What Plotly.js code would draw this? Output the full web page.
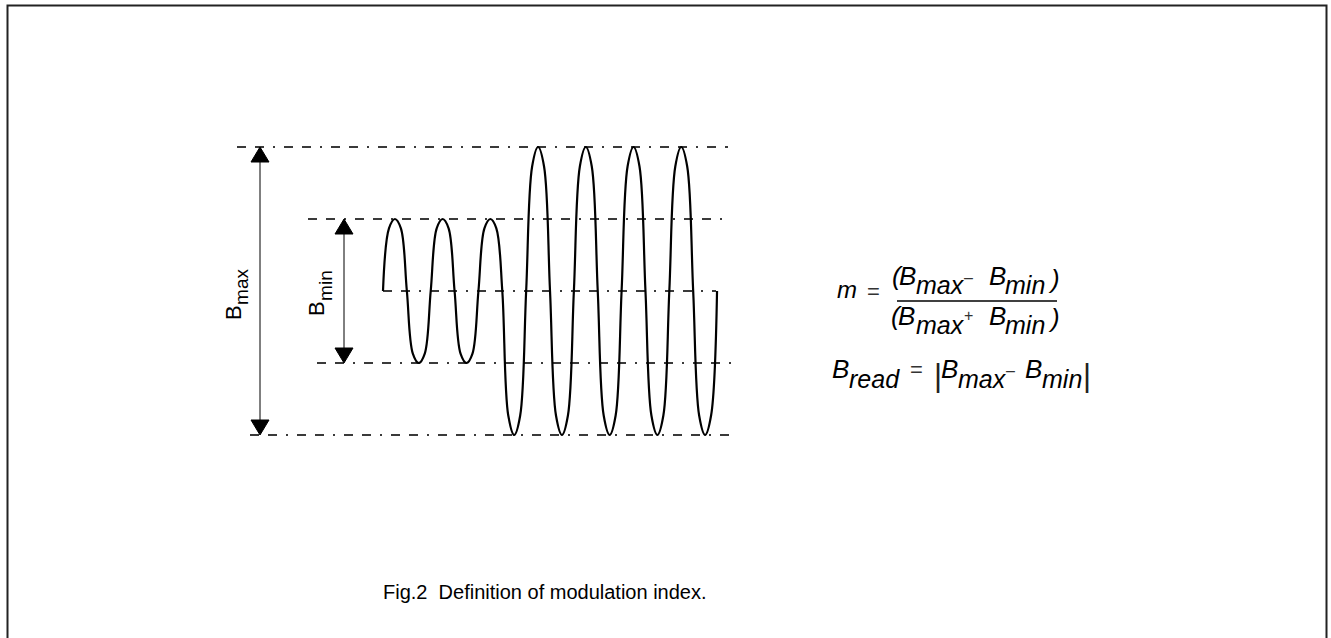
<!DOCTYPE html>
<html>
<head>
<meta charset="utf-8">
<script src="https://cdn.plot.ly/plotly-3.0.1.min.js"></script>
<style>html,body{margin:0;padding:0;background:#fff;}#chart{width:1331px;height:638px;}</style>
</head>
<body>
<div id="chart"></div>
<script>
// ---------------- data ----------------
// time in quarter periods of the carrier, field in units of the small (B_min) half-amplitude
const waveT = [0,0.5,1,1.5,2,2.5,3,3.5,4,4.5,5,5.5,6,6.5,7,7.5,8,8.5,9,9.5,10,10.5,11,11.5,12,12.5,13,13.5,14,14.5,15,15.5,16,16.5,17,17.5,18,18.5,19,19.5,20,20.5,21,21.5,22,22.5,23,23.5,24,24.5,25,25.5,26,26.5,27,27.5,28];
const waveB = [0,0.87,1,0.87,0,-0.87,-1,-0.87,0,0.87,1,0.87,0,-0.87,-1,-0.87,0,0.87,1,0.87,0,-1.73,-2,-1.73,0,1.73,2,1.73,0,-1.73,-2,-1.73,0,1.73,2,1.73,0,-1.73,-2,-1.73,0,1.73,2,1.73,0,-1.73,-2,-1.73,0,1.73,2,1.73,0,-1.73,-2,-1.73,0];
const bmaxAmp = 2;
const bminAmp = 1;
const guideLevels = [bmaxAmp, bminAmp, 0, -bminAmp, -bmaxAmp];
const labelMax = ["B", "max"];
const labelMin = ["B", "min"];
const caption = "Fig.2  Definition of modulation index.";

// ---------------- layout helpers ----------------
const W = 1331, H = 638;
const T0_PX = 383, T_PX = 11.93, B0_PX = 291, B_PX = 72;
const tx = px => (px - T0_PX) / T_PX;
const by = py => (B0_PX - py) / B_PX;
const FONT = "Liberation Sans, Arial, Helvetica, sans-serif";

const shapes = [];
const annotations = [];

// dashed guide lines
const guideExtentPx = [[237,728],[308,722],[383,716],[317,731],[250,730]];
guideLevels.forEach((lv, i) => {
  shapes.push({type:'line', xref:'x', yref:'y', x0:tx(guideExtentPx[i][0]), x1:tx(guideExtentPx[i][1]), y0:lv, y1:lv,
    line:{color:'#3a3a3a', width:1.8, dash:'9px,9px,9px,9px,2px,9px'}, layer:'below'});
});

// double arrows
function dblArrow(xPx, amp) {
  const x = tx(xPx), hw = 9 / T_PX, th = 15 / B_PX;
  shapes.push({type:'line', xref:'x', yref:'y', x0:x, x1:x, y0:amp - th, y1:-amp + th, line:{color:'#000', width:1}});
  shapes.push({type:'path', xref:'x', yref:'y', path:`M ${x-hw},${amp-th} L ${x+hw},${amp-th} L ${x},${amp} Z`,
    fillcolor:'#000', line:{color:'#000', width:1}});
  shapes.push({type:'path', xref:'x', yref:'y', path:`M ${x-hw},${-amp+th} L ${x+hw},${-amp+th} L ${x},${-amp} Z`,
    fillcolor:'#000', line:{color:'#000', width:1}});
}
dblArrow(260, bmaxAmp);
dblArrow(344, bminAmp);

// border (open at the bottom)
shapes.push({type:'path', xref:'paper', yref:'paper',
  path:`M ${7.5/W},-0.05 L ${7.5/W},${1-5.5/H} L ${1326.5/W},${1-5.5/H} L ${1326.5/W},-0.05`,
  line:{color:'#222', width:2}});

// fraction bar
const BAR_Y = 301;
shapes.push({type:'line', xref:'paper', yref:'paper', x0:897/W, x1:1057/W, y0:1-BAR_Y/H, y1:1-BAR_Y/H,
  line:{color:'#000', width:1.5}});

// text helpers
function put(text, xPx, yPx, size, o) {
  o = o || {};
  annotations.push({text:text, xref:'paper', yref:'paper', x:xPx/W, y:1-yPx/H,
    xanchor:o.xa || 'left', yanchor:'middle', showarrow:false, textangle:o.angle || 0,
    font:{family:FONT, size:size, color:o.color || '#000'}, borderpad:0});
}
function base(text, xLeft, baseline, size, o) { put(text, xLeft, baseline - 0.3465*size, size, o); }
function it(s) { return '<i>' + s + '</i>'; }

const BS = 26, SS = 25, OPS = 16;

// rotated labels (read bottom to top)
put(labelMax[0], 241 - 0.3465*22, 312.6, 22, {xa:'center', angle:-90});
put(labelMax[1], 247.5 - 0.3465*19, 287, 19, {xa:'center', angle:-90});
put(labelMin[0], 324 - 0.3465*22, 308.6, 22, {xa:'center', angle:-90});
put(labelMin[1], 332 - 0.3465*19, 285.5, 19, {xa:'center', angle:-90});

// m = fraction
base(it('m'), 836, BAR_Y - 3, 24);
put('=', 874, BAR_Y - 9, 22, {xa:'center', color:'#333'});
// numerator
const NB = BAR_Y - 16, NS = BAR_Y - 7;
base(it('('), 891, NB, BS);
base(it('B'), 898, NB, BS);
base(it('max'), 915, NS, SS);
put('\u2013', 969, NB - 8, OPS, {xa:'center', color:'#333'});
base(it('B'), 988, NB, BS);
base(it('min'), 1004, NS, SS);
base(it(')'), 1047, NB + 3, BS);
// denominator
const DB = BAR_Y + 24, DS = BAR_Y + 33;
base(it('('), 890, DB, BS);
base(it('B'), 897, DB, BS);
base(it('max'), 915, DS, SS);
put('+', 969, DB - 9, OPS, {xa:'center', color:'#333'});
base(it('B'), 988, DB, BS);
base(it('min'), 1004, DS, SS);
base(it(')'), 1047, DB + 2, BS);

// B_read = |B_max - B_min|
base(it('B'), 831, 378, BS);
base(it('read'), 848, 388, SS);
put('=', 916, 369, 22, {xa:'center', color:'#333'});
put('|', 938, 375, 31, {xa:'center', color:'#222'});
base(it('B'), 940, 378, BS);
base(it('max'), 957, 388, SS);
put('\u2013', 1010, 370, OPS, {xa:'center', color:'#333'});
base(it('B'), 1024, 378, BS);
base(it('min'), 1041, 388, SS);
put('|', 1087, 375, 31, {xa:'center', color:'#222'});

// caption
put(caption, 545, 599 - 0.3465*20, 20, {xa:'center'});

const trace = {x:waveT, y:waveB, type:'scatter', mode:'lines',
  line:{color:'#000', width:2.2, shape:'spline', smoothing:1}, hoverinfo:'skip'};

const layout = {
  width:W, height:H, margin:{l:0, r:0, t:0, b:0},
  paper_bgcolor:'#fff', plot_bgcolor:'#fff', showlegend:false,
  xaxis:{range:[tx(0), tx(W)], visible:false, fixedrange:true},
  yaxis:{range:[by(H), by(0)], visible:false, fixedrange:true},
  shapes:shapes, annotations:annotations, font:{family:FONT}
};
Plotly.newPlot('chart', [trace], layout, {displayModeBar:false, staticPlot:true});
</script>
</body>
</html>
